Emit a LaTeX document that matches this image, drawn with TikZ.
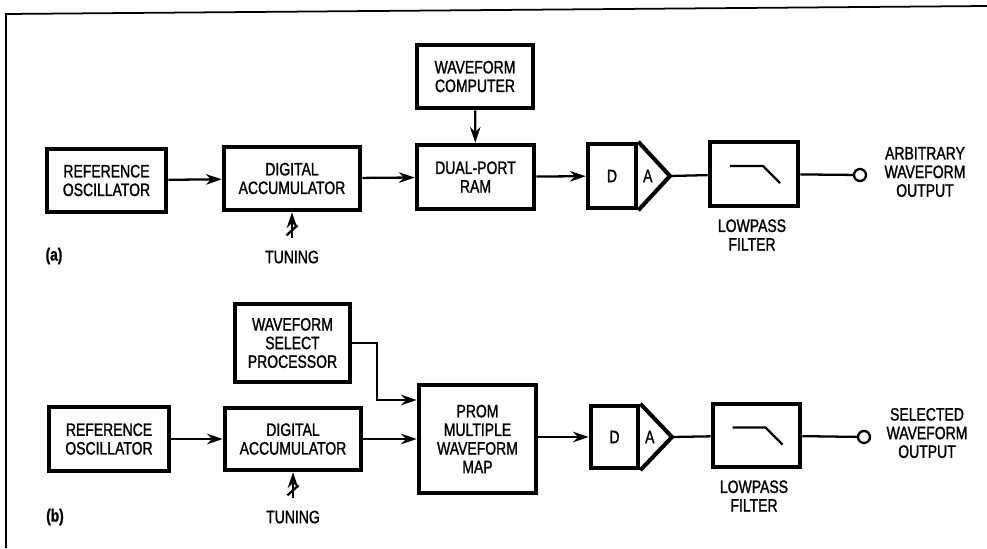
\documentclass[tikz,border=0pt]{standalone}
\usepackage{fontspec}
\setmainfont{Liberation Sans}[FakeStretch=0.78,FakeBold=1.3]
\usetikzlibrary{arrows.meta,positioning,calc}
\tikzstyle{blk}  =[rectangle, draw=black, line width=2.3pt, text centered,
                   align=center, inner sep=1pt]
\tikzstyle{arr}  =[-{Stealth[length=9pt,width=6pt]}, line width=1.3pt]
\tikzstyle{wire} =[line width=1.3pt]
\tikzstyle{lbl}  =[align=center, inner sep=0pt]

\begin{document}
\begin{tikzpicture}[every node/.style={font=\fontsize{10.2}{10.6}\selectfont}]
  \useasboundingbox (0,0) rectangle (19.74,10.96);

  % -- frame ----------------------------------------------------------------
  \draw[line width=1pt] (0.12,0) -- (0.12,10.68) -- (19.74,10.84);

  % -- (a) nodes ------------------------------------------------------------
  \node[blk, minimum width=2.39cm, minimum height=1.27cm] (refa)  at (2.13, 7.35) {REFERENCE\\OSCILLATOR};
  \node[blk, minimum width=2.73cm, minimum height=1.27cm] (acca)  at (5.84, 7.39) {DIGITAL\\ACCUMULATOR};
  \node[blk, minimum width=2.33cm, minimum height=1.27cm] (wcomp) at (9.50, 9.43) {WAVEFORM\\COMPUTER};
  \node[blk, minimum width=2.35cm, minimum height=1.29cm] (rama)  at (9.51, 7.42) {DUAL-PORT\\RAM};
  \node[blk, minimum width=0.97cm, minimum height=1.29cm] (daa)   at (12.24,7.44) {D};
  \node[blk, minimum width=1.77cm, minimum height=1.29cm] (lpfa)  at (15.08,7.48) {};
  \coordinate (tipa) at (13.40, 7.44);
  \node[circle, draw, line width=1.3pt, minimum size=0.24cm, inner sep=0pt] (outa) at (17.20, 7.46) {};
  \node[lbl] (txta)  at (18.50, 7.52) {ARBITRARY\\WAVEFORM\\OUTPUT};
  \node[lbl] (lowa)  at (15.04, 6.26) {LOWPASS\\FILTER};
  \node[lbl] (tuna)  at (5.84, 5.82)  {TUNING};
  \node[lbl, font=\bfseries] (capa) at (1.08, 5.84) {(a)};

  % -- (a) flow -------------------------------------------------------------
  \draw[arr] (refa) -- (acca);
  \draw[arr] (acca) -- (rama);
  \draw[arr] (wcomp) -- (rama);
  \draw[arr] (rama) -- (daa);
  \draw[line width=2.3pt, line join=miter] (daa.north east) -- (tipa) -- (daa.south east);
  \node[lbl] (aa) at ($(daa.east)!0.3!(tipa)$) {A};
  \draw[wire] (tipa) -- (lpfa);
  \draw[wire] (lpfa) -- (outa);
  \draw[wire] ($(lpfa.center)+(-0.48,0.16)$) -- ++(0.66,0) -- ++(0.34,-0.34);
  \draw[arr] ($(tuna.north)+(0,0.24)$) -- (acca.south);
  \draw[wire] ($(tuna.north)+(-0.11,0.30)$) -- ++(0.22,0.2);

  % -- (b) nodes ------------------------------------------------------------
  \node[blk, minimum width=2.31cm, minimum height=1.57cm] (wsel)  at (5.85, 4.10) {WAVEFORM\\SELECT\\PROCESSOR};
  \node[blk, minimum width=2.41cm, minimum height=1.27cm] (refb)  at (2.18, 2.18) {REFERENCE\\OSCILLATOR};
  \node[blk, minimum width=2.73cm, minimum height=1.25cm] (accb)  at (5.86, 2.18) {DIGITAL\\ACCUMULATOR};
  \node[blk, minimum width=2.35cm, minimum height=2.17cm] (prom)  at (9.55, 2.18) {PROM\\MULTIPLE\\WAVEFORM\\MAP};
  \node[blk, minimum width=0.95cm, minimum height=1.25cm] (dab)   at (12.29,2.22) {D};
  \node[blk, minimum width=1.75cm, minimum height=1.27cm] (lpfb)  at (15.13,2.25) {};
  \coordinate (tipb) at (13.44, 2.22);
  \node[circle, draw, line width=1.3pt, minimum size=0.24cm, inner sep=0pt] (outb) at (17.28, 2.22) {};
  \node[lbl] (txtb)  at (18.54, 2.30) {SELECTED\\WAVEFORM\\OUTPUT};
  \node[lbl] (lowb)  at (15.08, 1.04) {LOWPASS\\FILTER};
  \node[lbl] (tunb)  at (5.86, 0.62)  {TUNING};
  \node[lbl, font=\bfseries] (capb) at (1.10, 0.62) {(b)};

  % -- (b) flow -------------------------------------------------------------
  \draw[arr] (refb) -- (accb);
  \draw[arr] (accb) -- (prom);
  \draw[arr] (wsel.east) -- (7.54, 4.10) -- (7.54, 2.96) -- (prom.west |- 0,2.96);
  \draw[arr] (prom.east |- dab) -- (dab);
  \draw[line width=2.3pt, line join=miter] (dab.north east) -- (tipb) -- (dab.south east);
  \node[lbl] (ab) at ($(dab.east)!0.3!(tipb)$) {A};
  \draw[wire] (tipb) -- (lpfb);
  \draw[wire] (lpfb) -- (outb);
  \draw[wire] ($(lpfb.center)+(-0.48,0.16)$) -- ++(0.66,0) -- ++(0.34,-0.34);
  \draw[arr] ($(tunb.north)+(0,0.24)$) -- (accb.south);
  \draw[wire] ($(tunb.north)+(-0.11,0.30)$) -- ++(0.22,0.2);

\end{tikzpicture}
\end{document}
